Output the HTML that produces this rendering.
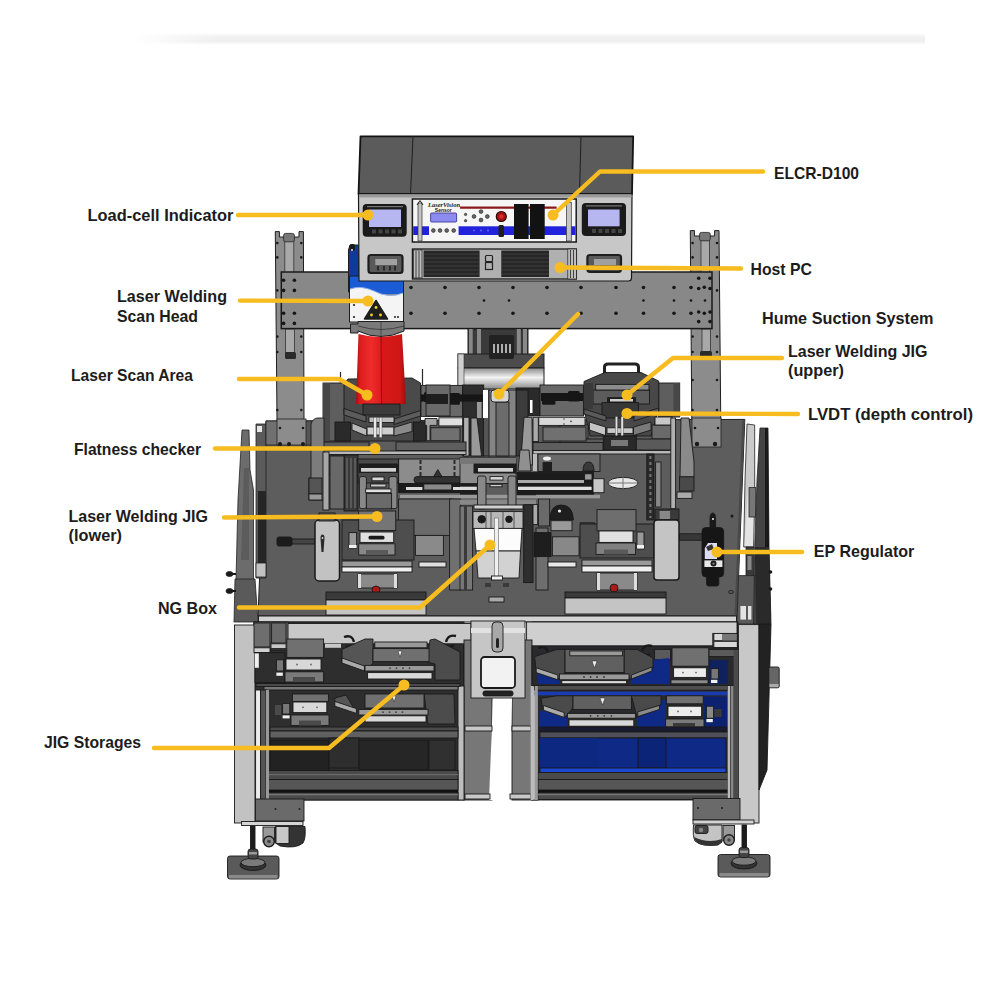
<!DOCTYPE html>
<html><head><meta charset="utf-8"><title>Laser welding machine layout</title>
<style>
html,body{margin:0;padding:0;background:#fff;}
body{width:1000px;height:1000px;overflow:hidden;}
svg{display:block;}
.t{font-family:"Liberation Sans","DejaVu Sans",sans-serif;font-weight:bold;font-size:16.2px;fill:#1c1c1c;}
.k{stroke:#1e1e1e;stroke-width:1;}
.y{stroke:#f7bc20;stroke-width:4.4;fill:none;stroke-linecap:round;stroke-linejoin:round;}
.yd{fill:#f7bc20;}
</style></head><body>
<svg width="1000" height="1000" viewBox="0 0 1000 1000">
<!-- background -->
<rect width="1000" height="1000" fill="#ffffff"/>
<defs><linearGradient id="tl" x1="0" y1="0" x2="0" y2="1"><stop offset="0" stop-color="#ffffff"/><stop offset="0.300" stop-color="#f1f1f1"/><stop offset="0.700" stop-color="#efefef"/><stop offset="1" stop-color="#ffffff"/></linearGradient>
<linearGradient id="tf" x1="0" y1="0" x2="1" y2="0"><stop offset="0" stop-color="#ffffff"/><stop offset="1" stop-color="#ffffff" stop-opacity="0"/></linearGradient></defs>
<rect x="135" y="33" width="790" height="12" fill="url(#tl)"/>
<rect x="135" y="33" width="80" height="12" fill="url(#tf)"/>

<!-- left column -->
<g>
<path d="M275.300 231.600 L279.400 231.600 L279.400 237 L299 237 L299 231.600 L303.400 231.600 L304 420 L306 448 L277 448 L277 420 Z" fill="#8c8c8c" class="k"/>
<rect x="284.800" y="240" width="9" height="34" fill="#a8a8a8" stroke="#333" stroke-width="0.800"/>
<rect x="283.600" y="233.400" width="10.800" height="8.400" rx="2" fill="#777" stroke="#222" stroke-width="0.800"/>
<rect x="285.500" y="329" width="9" height="24" fill="#a8a8a8" stroke="#333" stroke-width="0.800"/>
<rect x="285" y="352" width="11" height="7" rx="1.500" fill="#2a2a2a"/>
</g>
<!-- right column -->
<g>
<path d="M690.300 230.600 L694.400 230.600 L694.400 236 L714.600 236 L714.600 230.600 L719 230.600 L721 447 L692 447 Z" fill="#8c8c8c" class="k"/>
<rect x="701" y="239" width="8.500" height="34" fill="#a8a8a8" stroke="#333" stroke-width="0.800"/>
<rect x="699.500" y="232.400" width="10.800" height="8.400" rx="2" fill="#777" stroke="#222" stroke-width="0.800"/>
<rect x="702" y="329" width="8.500" height="24" fill="#a8a8a8" stroke="#333" stroke-width="0.800"/>
<rect x="700" y="351" width="12" height="6" rx="1.500" fill="#2a2a2a"/>
</g>
<g fill="#1a1a1a"><circle cx="277.3" cy="243" r="1.3"/><circle cx="277.3" cy="257.4" r="1.3"/><circle cx="277.3" cy="290.4" r="1.3"/><circle cx="277.3" cy="336.6" r="1.3"/><circle cx="277.3" cy="352" r="1.3"/><circle cx="277.3" cy="380" r="1.3"/><circle cx="277.3" cy="410" r="1.3"/><circle cx="301.3" cy="243" r="1.3"/><circle cx="301.3" cy="257.4" r="1.3"/><circle cx="301.3" cy="290.4" r="1.3"/><circle cx="301.3" cy="336.6" r="1.3"/><circle cx="301.3" cy="352" r="1.3"/><circle cx="301.3" cy="380" r="1.3"/><circle cx="301.3" cy="410" r="1.3"/><circle cx="692.6" cy="243" r="1.3"/><circle cx="692.6" cy="257.4" r="1.3"/><circle cx="692.6" cy="290.4" r="1.3"/><circle cx="692.6" cy="336.6" r="1.3"/><circle cx="692.6" cy="352" r="1.3"/><circle cx="692.6" cy="380" r="1.3"/><circle cx="692.6" cy="410" r="1.3"/><circle cx="717" cy="243" r="1.3"/><circle cx="717" cy="257.4" r="1.3"/><circle cx="717" cy="290.4" r="1.3"/><circle cx="717" cy="336.6" r="1.3"/><circle cx="717" cy="352" r="1.3"/><circle cx="717" cy="380" r="1.3"/><circle cx="717" cy="410" r="1.3"/></g>

<!-- beam -->
<rect x="281.300" y="272" width="430.700" height="56.600" fill="#888888" stroke="#1a1a1a" stroke-width="1.500"/>
<g fill="#161616"><circle cx="411" cy="287.5" r="1.8"/><circle cx="445" cy="287.5" r="1.8"/><circle cx="479" cy="287.5" r="1.8"/><circle cx="513" cy="287.5" r="1.8"/><circle cx="547" cy="287.5" r="1.8"/><circle cx="581" cy="287.5" r="1.8"/><circle cx="616" cy="287.5" r="1.8"/><circle cx="643.5" cy="287.5" r="1.8"/><circle cx="674" cy="287.5" r="1.8"/><circle cx="691" cy="287.5" r="1.8"/><circle cx="411" cy="313.3" r="1.8"/><circle cx="445" cy="313.3" r="1.8"/><circle cx="479" cy="313.3" r="1.8"/><circle cx="513" cy="313.3" r="1.8"/><circle cx="547" cy="313.3" r="1.8"/><circle cx="581" cy="313.3" r="1.8"/><circle cx="616" cy="313.3" r="1.8"/><circle cx="643.5" cy="313.3" r="1.8"/><circle cx="674" cy="313.3" r="1.8"/><circle cx="691" cy="313.3" r="1.8"/><circle cx="484" cy="300.5" r="1.3"/><circle cx="509" cy="300.5" r="1.3"/><circle cx="643.5" cy="300.5" r="1.3"/><circle cx="674" cy="300.5" r="1.3"/><circle cx="691" cy="300.5" r="1.3"/><circle cx="705" cy="300.5" r="1.3"/><circle cx="698.7" cy="278.2" r="1.8"/><circle cx="710" cy="278.2" r="1.8"/><circle cx="698.7" cy="321.6" r="1.8"/><circle cx="710" cy="321.6" r="1.8"/><circle cx="698.7" cy="288.5" r="1.8"/><circle cx="704.3" cy="287.3" r="1.8"/><circle cx="710" cy="288.5" r="1.8"/><circle cx="698.7" cy="312" r="1.8"/><circle cx="704.3" cy="313.2" r="1.8"/><circle cx="710" cy="312" r="1.8"/><circle cx="283.6" cy="280.2" r="1.8"/><circle cx="283.6" cy="290.4" r="1.8"/><circle cx="283.6" cy="313.2" r="1.8"/><circle cx="283.6" cy="323.4" r="1.8"/><circle cx="294.4" cy="280.2" r="1.8"/><circle cx="294.4" cy="290.4" r="1.8"/><circle cx="294.4" cy="313.2" r="1.8"/><circle cx="294.4" cy="323.4" r="1.8"/></g>

<!-- scan head -->
<g>
<path d="M348.500 250 L350 245 L358.600 245 L360 292 L348.500 292 Z" fill="#0f3a9c" class="k"/>
<rect x="349.600" y="244" width="5.400" height="7" rx="2" fill="#1a1a1a"/>
<circle cx="352" cy="250" r="1" fill="#eee"/>
<rect x="349" y="276" width="55" height="18" fill="#1b5cd6"/>
<path d="M350 289 Q361 285 374 291 Q389 299 403 293 L403 322 L350 322 Z" fill="#f4f4f4"/>
<path d="M350 289 Q361 285 374 291 Q389 299 403 293" fill="none" stroke="#8fb0e8" stroke-width="1"/>
<rect x="349.500" y="276" width="54" height="46" fill="none" class="k"/>
<path d="M364.500 319 L376 300.500 L387.500 319 Z" fill="#1e1e1e" stroke="#1e1e1e" stroke-width="1.500" stroke-linejoin="round"/>
<circle cx="376" cy="307.500" r="1.400" fill="#f6d21c"/><circle cx="371.500" cy="315" r="1.400" fill="#f6d21c"/><circle cx="380.500" cy="315" r="1.400" fill="#f6d21c"/>
<circle cx="354" cy="305" r="1.100" fill="#222"/><circle cx="354" cy="317" r="1.100" fill="#222"/><circle cx="395" cy="317" r="1" fill="#222"/><circle cx="398" cy="317" r="1" fill="#222"/>
<!-- collar -->
<path d="M350.500 324 L358 324 L358 321.500 L404 321.500 L404 331 Q381 342 358 331 L358 333 L350.500 333 Z" fill="#7a7a7a" class="k"/>
<path d="M358 326 Q381 333 404 326" fill="none" stroke="#333" stroke-width="0.800"/>
<path d="M381 322 V336" stroke="#333" stroke-width="0.700"/>
</g>

<!-- top box -->
<g>
<path d="M360.500 136.400 L633.200 136.400 L632 194 L358.500 194 Z" fill="#5b5b5b" stroke="#141414" stroke-width="1.800" stroke-linejoin="round"/>
<path d="M413 136.400 L410.500 194 M581 136.400 L579.500 194" class="k" fill="none" stroke-width="1.300"/>
<path d="M358.500 194 L632 194 L631.500 278 Q631.500 281 628.500 281 L359 281 Z" fill="#c7c7c7" stroke="#1a1a1a" stroke-width="1.200"/>
<rect x="359" y="194.500" width="272.500" height="3" fill="#9a9a9a" stroke="none"/>
<!-- left indicator -->
<rect x="362.700" y="204" width="44" height="32.800" rx="4" fill="#1a1a1a"/>
<rect x="369" y="209.500" width="32" height="17.500" fill="#b6b6f0"/>
<rect x="367" y="206" width="36" height="1.200" fill="#777"/>
<g fill="#444"><rect x="372" y="229.500" width="4" height="4"/><rect x="378.500" y="229.500" width="4" height="4"/><rect x="385" y="229.500" width="4" height="4"/><rect x="391.500" y="229.500" width="4" height="4"/><rect x="398" y="229.500" width="4" height="4"/></g>
<rect x="368.500" y="255" width="34" height="18" rx="2.500" fill="#5a5a5a" stroke="#1e1e1e" stroke-width="2.200"/>
<rect x="375.300" y="259" width="21.700" height="6" fill="#a0a0a0"/>
<path d="M378 266 V270.500 M384 266 V270.500 M390 266 V270.500 M395 266 V270.500" stroke="#1e1e1e" stroke-width="1.600"/>
<!-- right indicator -->
<rect x="581.800" y="203" width="44.200" height="33" rx="4" fill="#1a1a1a"/>
<rect x="588" y="209.500" width="31.600" height="16.800" fill="#b6b6f0"/>
<rect x="586" y="205.300" width="36" height="1.200" fill="#777"/>
<g fill="#444"><rect x="592" y="229" width="4" height="4"/><rect x="598.500" y="229" width="4" height="4"/><rect x="605" y="229" width="4" height="4"/><rect x="611.500" y="229" width="4" height="4"/><rect x="618" y="229" width="4" height="4"/></g>
<rect x="587.400" y="255" width="33.600" height="16.800" rx="2.500" fill="#5a5a5a" stroke="#1e1e1e" stroke-width="2.200"/>
<rect x="594" y="259" width="22" height="6" fill="#a0a0a0"/>
<!-- ELCR rack -->
<rect x="412.400" y="199" width="163.800" height="43" fill="#f6f6f6" stroke="#1a1a1a" stroke-width="1.500"/>
<rect x="413.200" y="226.300" width="162.300" height="8.700" fill="#2222dc"/>
<rect x="429" y="225.500" width="29.600" height="10.300" fill="#f6f6f6"/>
<rect x="418" y="203" width="4" height="38" fill="#c4c4c4" stroke="#333" stroke-width="0.700"/>
<path d="M417 205 L420 200.500 L423 205" fill="none" stroke="#222" stroke-width="1"/>
<rect x="566.400" y="202.500" width="4.900" height="38.500" fill="#c4c4c4" stroke="#333" stroke-width="0.700"/>
<rect x="430.600" y="213" width="26" height="9" rx="1" fill="#8c8cf0" stroke="#3a3a9a" stroke-width="0.900"/>
<text x="428" y="206.500" font-family="Liberation Serif,serif" font-style="italic" font-weight="bold" font-size="6.500" fill="#1a1a1a" textLength="32" lengthAdjust="spacingAndGlyphs">LaserVision</text>
<text x="434.800" y="211.800" font-family="Liberation Sans,sans-serif" font-weight="bold" font-size="4.600" fill="#1a1a1a" textLength="17" lengthAdjust="spacingAndGlyphs">Sensor</text>
<path d="M460 207.700 L556.600 207.700" stroke="#8a1a1a" stroke-width="2.200"/>
<circle cx="501.300" cy="216.500" r="5" fill="#a81414" stroke="#2a0808" stroke-width="1.200"/>
<circle cx="501.300" cy="216.500" r="2" fill="#d83030"/>
<rect x="498.500" y="225" width="5.500" height="12" rx="1.500" fill="#1e1e1e"/>
<rect x="514" y="204" width="14.600" height="35" fill="#121212"/>
<rect x="530" y="204" width="14.700" height="35" fill="#121212"/>
<g fill="#666" stroke="#222" stroke-width="0.600"><circle cx="474" cy="216.500" r="1.900"/><circle cx="481" cy="211.600" r="1.900"/><circle cx="481" cy="220" r="1.900"/><circle cx="487.300" cy="216.500" r="1.900"/><circle cx="465.600" cy="214.400" r="1.200"/><circle cx="465.600" cy="220.700" r="1.200"/><circle cx="433.400" cy="230.500" r="1.900"/><circle cx="440" cy="230.500" r="1.900"/><circle cx="446.700" cy="230.500" r="1.900"/><circle cx="453.700" cy="230.500" r="1.900"/></g>
<g fill="#5a6af0"><circle cx="474" cy="230.500" r="1"/><circle cx="481" cy="230.500" r="1"/><circle cx="488" cy="230.500" r="1"/></g>
<!-- host pc -->
<rect x="412.400" y="249" width="164" height="30" fill="#b0b0b0" stroke="#1a1a1a" stroke-width="1.300"/>
<rect x="413.500" y="250" width="8.500" height="28" fill="#bdbdbd" stroke="#222" stroke-width="0.700"/>
<path d="M416 251 V278 M419 251 V278" stroke="#222" stroke-width="0.800"/>
<rect x="423.600" y="250.500" width="56" height="26.500" fill="#262626"/>
<rect x="501.300" y="250.500" width="47.700" height="26.500" fill="#262626"/>
<path d="M424 254 H479 M424 258 H479 M424 262 H479 M424 266 H479 M424 270 H479 M424 274 H479 M502 254 H549 M502 258 H549 M502 262 H549 M502 266 H549 M502 270 H549 M502 274 H549" stroke="#4a4a4a" stroke-width="0.700"/>
<rect x="567.800" y="249" width="8.600" height="30" fill="#bdbdbd" stroke="#222" stroke-width="0.700"/>
<path d="M570.500 250 V278 M573.500 250 V278" stroke="#222" stroke-width="0.800"/>
<rect x="485.500" y="255.500" width="7" height="6" rx="1" fill="none" stroke="#222" stroke-width="1.200"/>
<rect x="485.500" y="262.500" width="7" height="7" fill="none" stroke="#222" stroke-width="1.200"/>
</g>
<!-- center mount + cylinder -->
<defs><linearGradient id="cyl" x1="0" y1="0" x2="0" y2="1"><stop offset="0" stop-color="#8a8a8a"/><stop offset="0.450" stop-color="#f4f4f4"/><stop offset="0.800" stop-color="#b0b0b0"/><stop offset="1" stop-color="#8a8a8a"/></linearGradient></defs>
<g>
<rect x="468" y="329" width="60" height="26" fill="#3a3a3a" class="k"/>
<rect x="469" y="329" width="3.700" height="25" fill="#888"/><rect x="477" y="329" width="4" height="25" fill="#888"/><rect x="516.800" y="329" width="4" height="25" fill="#888"/><rect x="523" y="329" width="4" height="25" fill="#888"/>

<rect x="458" y="354" width="86" height="14" fill="#4c4c4c" class="k"/>
<rect x="489" y="335" width="25" height="24" rx="2" fill="#222"/>
<path d="M494 344 V353 M498 344 V353 M502 344 V353 M506 344 V353 M510 344 V353" stroke="#ddd" stroke-width="1.500"/>
<rect x="458" y="368" width="86" height="21" fill="url(#cyl)" class="k"/>
<rect x="458" y="354" width="6" height="35" fill="#cfcfcf" stroke="#333" stroke-width="0.600"/>
</g>

<!-- table -->
<path d="M266 421 L744.800 419.400 L737 616 L258 616 Z" fill="#5d5d5d" class="k"/>
<path d="M742.300 421 L744.800 419.400 L737 616 L734.500 616 Z" fill="#4a4a4a"/>

<!-- side panels -->
<g stroke="#222" stroke-width="0.800">
<!-- left door panels -->
<path d="M242 430 L249 430 L250 470 L253.500 490 L253.500 580 L236 580 L238 500 Z" fill="#6c6c6c"/>
<path d="M244 468 L249 468 L249 560 L241 560 Z" fill="#5c5c5c" stroke="none"/>
<path d="M256 424 L266 424 L266 578 L256 578 Z" fill="#5a5a5a"/>
<rect x="257" y="426" width="5" height="6" fill="#e8e8e8" stroke="none"/>
<rect x="258" y="491" width="8" height="72" fill="#262626" stroke="none"/>
<rect x="256" y="563" width="10" height="14" fill="#c2c2c2"/>
<path d="M235 579 L255 579 L258 622 L234 622 Z" fill="#5a5a5a"/>
<rect x="266" y="421" width="12" height="24" fill="#707070"/>
<rect x="305" y="421" width="8" height="24" fill="#555"/>
<ellipse cx="229.500" cy="574" rx="3.500" ry="2.500" fill="#1a1a1a"/><ellipse cx="229.500" cy="591" rx="3.500" ry="2.500" fill="#1a1a1a"/>
<rect x="231" y="573" width="5" height="2" fill="#1a1a1a" stroke="none"/><rect x="231" y="590" width="5" height="2" fill="#1a1a1a" stroke="none"/>
<!-- right door panels -->
<path d="M747 424 L754.700 425 L754.700 500 L753.600 547 L743.700 547 L745 480 Z" fill="#cacaca"/>
<path d="M748 487 L753.500 487 L753 546 L744.500 546 Z" fill="#e4e4e4" stroke="none"/>
<rect x="749" y="487.600" width="6.800" height="29.400" fill="#777"/>
<rect x="746" y="547" width="7.600" height="29" fill="#3a3a3a"/>
<rect x="747.500" y="556" width="4" height="14" fill="#888" stroke="none"/>
<path d="M738.500 575.600 L758 575.600 L758 624 L737 624 Z" fill="#5a5a5a"/>
<rect x="740.400" y="606" width="5.600" height="13.600" fill="#e4e4e4" stroke="none"/><rect x="748" y="606" width="3.400" height="13.600" fill="#e4e4e4" stroke="none"/>
<path d="M760 428 L768 428 L769 547 L771 624 L753.600 624 L754.700 547 L757 481 Z" fill="#444"/>
<path d="M765 428 L768 428 L769 547 L771 624 L765 624 Z" fill="#1a1a1a" stroke="none"/>
<path d="M754.700 547 L769 547 L771 624 L756 624 Z" fill="#2a2a2a" stroke="none"/>
<circle cx="770.500" cy="572" r="1.800" fill="#1a1a1a" stroke="none"/><circle cx="770.500" cy="589" r="1.800" fill="#1a1a1a" stroke="none"/>
</g>

<g>
<rect x="277" y="419" width="29" height="26" fill="#8c8c8c" stroke="#222" stroke-width="0.800"/>
<rect x="692" y="418" width="29" height="29" fill="#8c8c8c" stroke="#222" stroke-width="0.800"/>
<g fill="#1a1a1a"><circle cx="280" cy="444" r="2"/><circle cx="289" cy="444" r="2"/><circle cx="303" cy="444" r="2"/><circle cx="280" cy="428" r="1.300"/><circle cx="303" cy="428" r="1.300"/>
<circle cx="697" cy="444" r="2.200"/><circle cx="715" cy="444" r="2.200"/><circle cx="695" cy="428" r="1.300"/><circle cx="718" cy="428" r="1.300"/></g>
</g>
<g stroke="#1a1a1a" stroke-width="0.9">
<!-- back band with clamps -->
<rect x="421" y="385.400" width="41.700" height="31" fill="#686868"/>
<rect x="462.700" y="385" width="21" height="71" fill="#2e2e2e"/>
<rect x="516" y="388" width="23.500" height="28" fill="#2a2a2a"/>
<rect x="540" y="385" width="43.500" height="31" fill="#686868"/>
<g fill="#161616" stroke="none">
<rect x="421" y="394.400" width="62" height="7.200"/><rect x="447" y="393" width="13" height="11.700" rx="1.500"/><rect x="424" y="392" width="8" height="10" rx="1.500"/>
<rect x="541" y="393" width="42" height="8"/><rect x="542" y="393" width="13.400" height="11.700" rx="1.500"/><rect x="568" y="391" width="11.700" height="10.500" rx="1.500"/>
</g>
<!-- central pillar -->
<rect x="483.400" y="390" width="6.300" height="66" fill="#555"/>
<rect x="516" y="390" width="12" height="66" fill="#3c3c3c"/>
<rect x="483" y="390" width="5" height="28" fill="#ffffff" stroke="none"/>
<rect x="530" y="400" width="2.5" height="13" fill="#ffffff" stroke="none"/>
<rect x="489" y="390" width="27" height="66" fill="#848484"/>
<rect x="496" y="402" width="13" height="54" fill="#6c6c6c"/>
<rect x="491" y="390" width="18" height="12" rx="3" fill="#d6d6d6"/>
<path d="M463.600 417.300 L469 417.300 L469 456 L463.600 456 Z" fill="#b0b0b0"/>
<path d="M471 418 L477 418 L481.600 456 L471 456 Z" fill="#999"/>
<rect x="477" y="402" width="4.600" height="16" fill="#999" stroke="none"/>
<path d="M524 417.300 L532 417.300 L532.500 465 L520.500 465 Z" fill="#999"/>
<!-- left jig holder (around cone) -->
<path d="M340.500 372 V384 M422.500 369 V385" stroke="#2a2a2a" stroke-width="1.200"/>
<rect x="323" y="383" width="22" height="58" fill="#5e5e5e"/>
<rect x="323" y="383" width="7" height="58" fill="#474747" stroke="none"/>
<path d="M344 384 L348 379 L412 378 L420.5 383 L420.5 441 L344 441 Z" fill="#4a4a4a"/>
<defs><linearGradient id="cone" x1="0" y1="0" x2="1" y2="0"><stop offset="0" stop-color="#a80e0e"/><stop offset="0.080" stop-color="#dc1c1c"/><stop offset="0.300" stop-color="#ee2c2c"/><stop offset="0.500" stop-color="#e01c1c"/><stop offset="0.510" stop-color="#d81818"/><stop offset="0.880" stop-color="#d01616"/><stop offset="1" stop-color="#9c0e0e"/></linearGradient></defs>
<g stroke="none">
<path d="M358.500 334 Q380 340 402 334 L406 404 L356 404 Z" fill="url(#cone)"/>
<path d="M381 337 L381.500 404" stroke="#8c0c0c" stroke-width="0.900"/>
</g>
<rect x="363" y="404" width="37" height="11" fill="#3c3c3c"/>
<path d="M344 408.500 L366 416 L366 422 L344 415 Z" fill="#5c5c5c"/>
<path d="M420.500 410.500 L394 419 L394 424.500 L420.500 416 Z" fill="#5c5c5c"/>
<rect x="369" y="417" width="25" height="5.500" fill="#bdbdbd"/>
<rect x="367" y="427" width="27" height="8" fill="#cfcfcf"/>
<path d="M352 423 L366.700 429 L366.700 436 L352 430 Z" fill="#b8b8b8"/>
<path d="M394 427.500 L412 422 L412 431.500 L394 436 Z" fill="#8a8a8a"/>
<rect x="373.700" y="417.500" width="2.800" height="20" fill="#e8e8e8" stroke="#444" stroke-width="0.400"/>
<rect x="379.200" y="417.500" width="2.800" height="20" fill="#e8e8e8" stroke="#444" stroke-width="0.400"/>
<rect x="335" y="422" width="15.500" height="19" fill="#2a2a2a"/>
<rect x="413.500" y="422" width="12.500" height="19" fill="#2a2a2a"/>
<rect x="426" y="385" width="24" height="31" fill="#6a6a6a"/>
<rect x="426" y="394" width="22" height="10" fill="#1e1e1e" stroke="none"/>
<rect x="323" y="442" width="46" height="8.500" fill="#5a5a5a"/>
<rect x="323" y="455" width="34" height="20" fill="#4a4a4a"/>
<!-- upper right jig -->
<rect x="658.700" y="383" width="21" height="34" fill="#5e5e5e"/>
<rect x="673.400" y="383" width="6.300" height="34" fill="#484848" stroke="none"/>
<path d="M604.500 376 L604.500 367 Q604.500 364 608 364 L635 364 Q638.500 364 638.500 367 L638.500 376" fill="none" stroke="#222" stroke-width="3"/>
<path d="M584 381.500 L604.800 372.500 L641 372.500 L658.700 381 L658.700 409 L651 436 L590 436 L584 409.500 Z" fill="#484848"/>
<rect x="593" y="390" width="56.500" height="14" fill="#5c5c5c"/>
<rect x="595.700" y="384.400" width="53.300" height="5.600" fill="#8c8c8c"/>
<rect x="584" y="383" width="9" height="26" fill="#3a3a3a" stroke="none"/>
<rect x="607.600" y="397.700" width="28" height="5" fill="#1e1e1e"/>
<rect x="610" y="399" width="23" height="2.500" fill="#cfcfcf" stroke="none"/>
<rect x="602" y="402.600" width="36.400" height="15.400" fill="#383838"/>
<path d="M584 409 L606 416 L606 421 L584 414 Z" fill="#5a5a5a"/>
<path d="M658.700 408 L634 416 L634 421 L658.700 413 Z" fill="#5a5a5a"/>
<path d="M589.400 422 L605.500 427 L605.500 435.500 L589.400 430 Z" fill="#c4c4c4"/>
<path d="M651 422 L633.500 427 L633.500 435.500 L651 430 Z" fill="#7a7a7a"/>
<rect x="607" y="427.800" width="26" height="5.600" fill="#c8c8c8"/>
<rect x="615.300" y="416.600" width="2.300" height="20" fill="#e0e0e0" stroke="#444" stroke-width="0.400"/>
<rect x="621" y="416.600" width="2.300" height="20" fill="#e0e0e0" stroke="#444" stroke-width="0.400"/>
<rect x="603.400" y="436" width="33" height="14" fill="#2a2a2a"/>
<rect x="611" y="440" width="17" height="6" fill="#777" stroke="none"/>
<rect x="560" y="425" width="28" height="14" fill="#6e6e6e"/>
<rect x="652" y="425" width="20" height="14" fill="#6a6a6a"/>
<rect x="560" y="439" width="43.400" height="11" fill="#5a5a5a"/>
<rect x="636.300" y="439" width="38.500" height="11" fill="#5a5a5a"/>
<!-- light plates row y417 -->
<rect x="438.900" y="417.800" width="23.800" height="8.100" fill="#e0e0e0"/>
<path d="M425 418.500 L437 418.500 L437 425.400 L430 425.400 L430 440.700 L426.700 440.700 L426.700 425.400 L425 425.400 Z" fill="#a4a4a4"/>
<rect x="538.800" y="417.300" width="46.200" height="8.100" fill="#d8d8d8"/>
<rect x="533" y="417.300" width="5.300" height="24.300" fill="#aaa"/>
<circle cx="564" cy="419" r="0.800" fill="#444" stroke="none"/><circle cx="564" cy="424" r="0.800" fill="#444" stroke="none"/><circle cx="571" cy="421.300" r="0.900" fill="#444" stroke="none"/>
<rect x="655" y="417" width="17" height="8" fill="#c8c8c8"/>
<rect x="430.800" y="427.700" width="29.200" height="13" fill="#707070"/>
<rect x="543" y="427" width="43" height="14" fill="#707070"/>
<!-- band y442-454 -->
<rect x="396" y="442" width="70" height="8.600" fill="#5e5e5e"/>
<rect x="533" y="442.500" width="70" height="8.100" fill="#5e5e5e"/>
<rect x="323" y="451" width="143" height="3.5" fill="#b8b8b8"/>
<rect x="533" y="450.5" width="141" height="3.5" fill="#b8b8b8"/>
<!-- sloped brackets -->
<path d="M311 424 Q313 418 318 418 L324 418 L324 500 L309 500 L309 478 L311 478 Z" fill="#7c7c7c"/>
<rect x="309" y="478" width="13" height="16" fill="#555"/><rect x="309" y="494" width="13" height="6" fill="#9a9a9a"/>
<rect x="323" y="452" width="6" height="58" fill="#a8a8a8"/>
<path d="M681 418 L689 418 L694 462 L694 477 L680 477 Z" fill="#8a8a8a"/>
<rect x="679.600" y="476.800" width="14.400" height="14.200" fill="#4a4a4a"/><rect x="677" y="492" width="15" height="6.400" fill="#aaa"/>
<rect x="670.800" y="418" width="4.800" height="90.800" fill="#b0b0b0"/>
<rect x="646.800" y="454" width="7.200" height="66" fill="#2a2a2a"/><path d="M650.400 456 V518" stroke="#777" stroke-width="2" stroke-dasharray="3 3"/>
<rect x="655.600" y="462" width="5.400" height="45" fill="#888"/>
<!-- gray plates row y459-483 -->
<rect x="344" y="455" width="14" height="56" fill="#3a3a3a"/>
<path d="M347 458 V508 M351 458 V508 M355 458 V508" stroke="#8a8a8a" stroke-width="0.800"/>
<rect x="330" y="456" width="14" height="53" fill="#686868"/>
<rect x="398.600" y="459" width="77.400" height="24.600" fill="#8c8c8c"/>
<path d="M420.500 460 V476 M454.500 460 V476" stroke="#2a2a2a" stroke-width="2" stroke-dasharray="4 2"/>
<rect x="414" y="476.600" width="47.600" height="6.400" rx="3" fill="#333"/>
<path d="M433.600 476.600 L437.800 469.600 L442 476.600 Z" fill="#333"/>
<!-- black rail -->
<rect x="398.600" y="483.600" width="78" height="9" fill="#1c1c1c"/>
<rect x="406" y="487" width="16.400" height="3" fill="#dcdcdc" stroke="none"/>
<rect x="453" y="487" width="23" height="3" fill="#dcdcdc" stroke="none"/>
<rect x="423.800" y="484" width="28" height="6" fill="#888"/>
<rect x="400" y="494.800" width="60" height="3.500" fill="#999" stroke="none"/>
<ellipse cx="623" cy="483" rx="15" ry="5.600" fill="#e8e8e8"/>

<path d="M609 483 H637 M623 477 V489" stroke="#777" stroke-width="1"/>
<rect x="398.600" y="499" width="53.200" height="36.400" fill="#6a6a6a"/>
<rect x="449.600" y="499" width="11" height="91" fill="#707070"/>
<!-- left lower jig stack -->
<rect x="358" y="459" width="40.600" height="24" fill="#4a4a4a"/>
<rect x="359.400" y="464" width="38" height="8.400" fill="#1e1e1e"/>
<rect x="361" y="468" width="35" height="3.700" fill="#d0d0d0" stroke="none"/>
<rect x="359.400" y="476.600" width="7" height="32" rx="2" fill="#888"/><rect x="389" y="476.600" width="8" height="32" rx="2" fill="#888"/>
<rect x="372" y="477" width="12" height="3.800" fill="#d8d8d8"/>
<rect x="370.600" y="484" width="15.400" height="3" fill="#ccc"/>
<rect x="365.700" y="489" width="25.300" height="3.700" fill="#e0e0e0"/>
<rect x="366.400" y="493.400" width="25.200" height="15.400" fill="#6a6a6a"/>
<rect x="342" y="520" width="72" height="40" fill="#4e4e4e"/>
<rect x="415.400" y="535.400" width="28" height="20" fill="#8a8a8a"/>
<rect x="358.700" y="511" width="37" height="19.500" fill="#757575"/>
<rect x="360" y="532" width="33.700" height="10.400" fill="#e0e0e0"/>
<rect x="368.500" y="535.700" width="16" height="3.900" rx="1.500" fill="#1a1a1a" stroke="none"/>
<rect x="358.700" y="543.800" width="36.300" height="11.200" fill="#888"/>
<rect x="366" y="550" width="22" height="5" fill="#5a5a5a" stroke="none"/>
<rect x="349" y="532.600" width="7.600" height="15.400" fill="#999"/>
<rect x="349" y="545" width="7.600" height="3" fill="#f0f0f0" stroke="none"/>
<rect x="342" y="561" width="70" height="6" fill="#9a9a9a"/>
<rect x="342" y="567" width="70" height="5" fill="#f0f0f0"/>
<rect x="358" y="574" width="39" height="14" fill="#8a8a8a"/>
<rect x="358" y="574" width="3" height="14" fill="#ddd" stroke="none"/><rect x="394" y="574" width="3" height="14" fill="#ddd" stroke="none"/>
<circle cx="376" cy="590" r="4" fill="#b01818"/>
<rect x="326" y="592" width="100" height="8" fill="#3a3a3a"/>
<rect x="326" y="600" width="100" height="15" fill="#c4c4c4"/>
<!-- left pod -->
<rect x="277" y="537" width="15" height="9" rx="2" fill="#1c1c1c"/>
<rect x="292" y="539" width="23" height="5" fill="#444"/>
<rect x="315" y="520" width="24.500" height="61" rx="4" fill="#c2c2c2" stroke-width="1.500"/>
<rect x="319" y="513" width="16" height="8" fill="#555"/>
<path d="M320.500 538 Q320.500 534.500 322.500 534.500 Q324.500 534.500 324.500 538 L323.500 552 L321.500 552 Z" fill="#2a2a2a" stroke="none"/><circle cx="322.500" cy="538" r="0.900" fill="#ddd" stroke="none"/>
<!-- middle -->
<rect x="460" y="458" width="56" height="25.600" fill="#8c8c8c"/>
<rect x="460" y="458" width="56" height="6" fill="#777" stroke="none"/>
<rect x="474" y="464" width="42" height="9" fill="#1e1e1e"/>
<rect x="478" y="468" width="35" height="3.700" fill="#d0d0d0" stroke="none"/>
<rect x="460" y="484" width="17" height="10.800" fill="#1c1c1c" stroke="none"/>
<rect x="460" y="486.700" width="16.800" height="3.300" fill="#dcdcdc" stroke="none"/>
<rect x="460" y="494.800" width="76" height="3.500" fill="#999" stroke="none"/>
<rect x="460" y="499.700" width="76" height="5" fill="#888" stroke="none"/>
<rect x="477.500" y="476" width="8.500" height="33" rx="2" fill="#888"/><rect x="508" y="476" width="8" height="33" rx="2" fill="#888"/>
<rect x="490" y="476.600" width="13" height="3.500" fill="#d8d8d8"/><rect x="490" y="484.300" width="12" height="2.500" fill="#ccc"/>
<rect x="474" y="505" width="49" height="4" fill="#d0d0d0"/>
<rect x="460" y="506" width="12.600" height="84" fill="#777"/>
<rect x="464" y="506" width="3" height="84" fill="#3a3a3a" stroke="none"/>
<rect x="419" y="562" width="27" height="5" fill="#e0e0e0"/>
<rect x="473" y="511.600" width="50" height="17" fill="#b8b8b8"/>
<path d="M486 512 V528 M491 512 V528 M503 512 V528 M514 512 V528" stroke="#555" stroke-width="1"/>
<circle cx="481.700" cy="519.300" r="3.800" fill="#1a1a1a"/><circle cx="509" cy="519.300" r="3.300" fill="#1a1a1a"/>
<!-- NG box -->
<path d="M474 528.400 L522 528.400 L520.500 551 L476 551 Z" fill="#fcfcfc"/>
<path d="M476 551 L520.500 551 L519 578 L478 578 Z" fill="#d2d2d2"/>
<rect x="494.300" y="518" width="4.200" height="60" fill="#f0f0f0" stroke="#666" stroke-width="0.600"/>
<rect x="491.500" y="576" width="11" height="4" fill="#f0f0f0"/>
<rect x="523.700" y="504.600" width="9.300" height="78" fill="#2e2e2e"/>
<rect x="533" y="504.600" width="4.700" height="20" fill="#aaa"/>
<rect x="538.400" y="499" width="11.200" height="27" fill="#6a6a6a"/>
<rect x="536" y="528" width="12" height="62" fill="#6e6e6e"/>
<rect x="534" y="532.600" width="17" height="24" fill="#1e1e1e"/>
<path d="M550 520 Q550 505 561 505 Q573 505 573.400 520 Z" fill="#1e1e1e"/>
<circle cx="559.500" cy="511" r="1.600" fill="#eee" stroke="none"/>
<rect x="551" y="520.700" width="21" height="10" fill="#999"/>
<rect x="552.400" y="536.800" width="26.600" height="19" fill="#888"/>
<rect x="580.400" y="522.800" width="14" height="33" fill="#4a4a4a"/>
<rect x="548" y="562" width="28" height="5" fill="#e8e8e8"/>
<rect x="489" y="597" width="15" height="5" fill="#aaa"/>
<rect x="485" y="583" width="6" height="4" fill="#3a3a3a" stroke="none"/><rect x="503" y="583" width="6" height="4" fill="#3a3a3a" stroke="none"/>
<!-- right mid-top -->
<path d="M520 450 L529 450 L531 471 L518 471 Z" fill="#909090"/>
<rect x="533" y="454" width="4" height="17" fill="#bbb" stroke="none"/>
<rect x="538" y="454" width="62" height="17.500" fill="#6a6a6a"/>
<rect x="542.600" y="462" width="9.400" height="9" fill="#1e1e1e" stroke="none"/>
<ellipse cx="547" cy="458.500" rx="4" ry="2" fill="#eee" stroke="none"/>
<path d="M583 471 Q583 462 588.500 462 Q594 462 594 471 Z" fill="#3a3a3a"/>
<rect x="517.400" y="472.400" width="76" height="22.400" fill="#1c1c1c"/>
<rect x="518" y="480" width="66" height="3" fill="#aaa" stroke="none"/>
<rect x="518" y="486.700" width="73.600" height="3.300" fill="#e0e0e0" stroke="none"/>
<rect x="584.600" y="473.800" width="7.400" height="6.200" fill="#999"/>
<rect x="593" y="478.700" width="11" height="14" fill="#c8c8c8"/>
<rect x="536" y="494.800" width="64" height="3.500" fill="#999" stroke="none"/>
<!-- right lower jig stack -->
<rect x="580" y="524" width="74" height="34" fill="#4e4e4e"/>
<rect x="597" y="509.600" width="39" height="21.400" fill="#6e6e6e"/><rect x="637" y="532" width="7" height="17" fill="#999"/><rect x="637" y="545" width="7" height="3.500" fill="#f0f0f0" stroke="none"/>
<rect x="599" y="531" width="34" height="11.400" fill="#e0e0e0"/>
<rect x="596" y="543" width="39.600" height="11.400" fill="#808080"/><rect x="604" y="549.500" width="24" height="5" fill="#5a5a5a" stroke="none"/>
<rect x="582" y="560" width="70" height="6" fill="#9a9a9a"/>
<rect x="582" y="566" width="70" height="6" fill="#f0f0f0"/>
<rect x="597" y="573" width="40" height="17" fill="#8a8a8a"/>
<rect x="597" y="573" width="3" height="17" fill="#ddd" stroke="none"/><rect x="634" y="573" width="3" height="17" fill="#ddd" stroke="none"/>
<circle cx="614" cy="588" r="4" fill="#b01818"/>
<rect x="565" y="592" width="101" height="6" fill="#3a3a3a"/>
<rect x="565" y="598" width="101" height="16" fill="#c4c4c4"/>
<!-- right pod -->
<rect x="655" y="509" width="24" height="11" fill="#3a3a3a"/><rect x="659.600" y="511" width="10.400" height="8" fill="#888" stroke="none"/>
<rect x="654" y="520" width="25" height="60" rx="3" fill="#c4c4c4" stroke-width="1.500"/>
<rect x="679.600" y="533.800" width="23" height="6.400" fill="#383838"/>
<!-- EP regulator -->
<path d="M710 528 L710 519 Q710 513 712.800 513 Q715.600 513 715.600 519 L715.600 528 Z" fill="#1a1a1a"/>
<circle cx="713" cy="519" r="1" fill="#eee" stroke="none"/>
<rect x="702" y="527.500" width="21.700" height="49.500" rx="4" fill="#161616"/>
<rect x="706.600" y="576" width="12.200" height="10" rx="2" fill="#161616"/>
<path d="M704.800 559 L704.800 548 L708 543 L717 543 L717 559 Z" fill="#dcdcf0" stroke="none"/>
<path d="M706 547 L712 544 L714 549 L708 551 Z" fill="#333" stroke="none"/>
<rect x="704.400" y="560.400" width="18" height="6.600" fill="#e8e8e8" stroke="none"/>
<circle cx="713.500" cy="563.600" r="3" fill="#1a1a1a" stroke="none"/><circle cx="713.500" cy="563.600" r="1.200" fill="#777" stroke="none"/>
<circle cx="732" cy="516" r="1.500" fill="#1a1a1a" stroke="none"/>
<ellipse cx="731" cy="592" rx="2.500" ry="1.500" fill="none" stroke="#1a1a1a" stroke-width="0.800"/>
</g>
<!-- table front -->
<rect x="258.5" y="616" width="478" height="6" fill="#d4d4d4" class="k"/>
<!-- lower frame -->
<g stroke="#1a1a1a" stroke-width="0.9">
<!-- back fill of drawers -->
<rect x="254" y="622" width="210" height="178" fill="#2e2e2e"/>
<rect x="532" y="622" width="206" height="178" fill="#2e2e2e"/>
<!-- upper light band -->
<rect x="287.600" y="623.500" width="183.400" height="20.300" fill="#c8c8c8"/>
<rect x="526.600" y="622" width="210.400" height="24" fill="#cfcfcf"/>
<rect x="254" y="622" width="34" height="28" fill="#6e6e6e"/>
<rect x="270" y="643" width="18" height="6" fill="#c8c8c8"/>
<!-- posts -->
<rect x="234.500" y="625" width="20.500" height="198" fill="#c2c2c2"/>
<rect x="738.400" y="624.600" width="20.600" height="198.400" fill="#c8c8c8"/>
<path d="M759 624 L771 624 L767 770 L759 790 Z" fill="#222"/>
<rect x="768.800" y="667" width="10.400" height="20.800" rx="1.500" fill="#666"/><rect x="769.500" y="684" width="9" height="3.200" fill="#aaa" stroke="none"/>
<!-- center frame -->
<rect x="464" y="640" width="28" height="160" fill="#777"/>
<rect x="512" y="640" width="20" height="160" fill="#777"/>
<path d="M493 698 L512 698 L509 800 L489 800 Z" fill="#ffffff" stroke="none"/>
<rect x="465" y="726" width="27" height="5" fill="#c8c8c8"/><rect x="512" y="726" width="19" height="5" fill="#c8c8c8"/>
<rect x="465" y="794" width="25" height="5" fill="#c8c8c8"/><rect x="510" y="794" width="21" height="5" fill="#c8c8c8"/>
<rect x="458" y="686" width="6" height="114" fill="#bdbdbd"/>
<rect x="532" y="686" width="6" height="114" fill="#bdbdbd"/>
<!-- center unit -->
<rect x="471" y="621" width="54" height="77" fill="#c6c6c6"/>
<rect x="471" y="628" width="54" height="5" fill="#e2e2e2" stroke="none"/>
<rect x="492" y="622" width="11" height="30" rx="4" fill="#a8a8a8"/>
<rect x="496" y="638" width="3" height="10" rx="1.5" fill="#222" stroke="none"/>
<rect x="481" y="657" width="34" height="31" rx="3.500" fill="#f2f2f2" stroke-width="1.800"/>
<rect x="483" y="691" width="30" height="5" rx="2" fill="#222"/>

<!-- LEFT drawer -->
<rect x="254" y="623" width="16" height="24" fill="#6e6e6e"/>
<rect x="254" y="647.800" width="16" height="4.800" fill="#d0d0d0"/>
<rect x="271.600" y="623" width="14.400" height="20" fill="#6a6a6a"/>
<rect x="271" y="643.800" width="15" height="4.800" fill="#c8c8c8"/>
<rect x="325" y="643.800" width="16" height="4" fill="#c8c8c8" stroke="none"/>
<rect x="255" y="652.600" width="30" height="30" fill="#2e2e2e"/>
<rect x="254.800" y="653.400" width="4" height="14.400" fill="#f0f0f0" stroke="none"/>
<rect x="276.400" y="659.800" width="7.200" height="11.200" fill="#777"/>
<rect x="276.400" y="672.600" width="6.400" height="3.200" fill="#f0f0f0" stroke="none"/>
<rect x="286.800" y="639" width="36.800" height="18.400" fill="#707070"/>
<rect x="286" y="659" width="35" height="11" fill="#d8d8d8"/>
<circle cx="297" cy="664.500" r="0.900" fill="#666" stroke="none"/><circle cx="311" cy="664.500" r="0.900" fill="#666" stroke="none"/>
<rect x="285" y="671.800" width="38.600" height="10.200" fill="#7a7a7a"/>
<rect x="293" y="677" width="22" height="5" fill="#4a4a4a" stroke="none"/>
<rect x="275" y="705" width="6" height="10" fill="#4a4a4a" stroke="none"/>
<rect x="282.600" y="703.400" width="7.200" height="10.600" fill="#777"/>
<rect x="282.600" y="715.400" width="7" height="3" fill="#f0f0f0" stroke="none"/>
<rect x="292.400" y="694" width="36" height="7.400" fill="#707070"/>
<rect x="293" y="702" width="33.800" height="10.600" fill="#d8d8d8"/>
<circle cx="303" cy="707.300" r="0.900" fill="#666" stroke="none"/><circle cx="317" cy="707.300" r="0.900" fill="#666" stroke="none"/>
<rect x="291" y="715" width="38" height="10.400" fill="#7a7a7a"/>
<rect x="299" y="720.500" width="22" height="5" fill="#4a4a4a" stroke="none"/>
<!-- large jig shelf 1 -->
<path d="M344 637 Q352 634 354 642 M346 647 Q353 645 354.500 652 L351 657" fill="none" stroke="#1a1a1a" stroke-width="2.400"/>
<path d="M456 636 Q448 634 446 642 M454 646 Q447 645 445.500 652 L449 657" fill="none" stroke="#1a1a1a" stroke-width="2.400"/>
<path d="M342 649.400 L365 639 L373 639 L373 663 L365 671 L342 661.400 Z" fill="#555"/>
<path d="M342 658 L364.400 666 L364.400 671 L342 663 Z" fill="#aaa"/>
<path d="M430 640 L435 639 L460 652 L460 680 L435 680 L435 664 L427 662 Z" fill="#4c4c4c"/>
<rect x="374.800" y="642" width="52.200" height="5.800" fill="#999"/>
<rect x="373" y="648.600" width="56" height="13" fill="#707070"/>
<path d="M398 651 L402 651 L400 657 Z" fill="#f4f4f4" stroke="#222" stroke-width="0.500"/>
<rect x="365" y="665.400" width="69" height="5.600" fill="#9a9a9a"/>
<g fill="#444" stroke="none"><circle cx="390" cy="668.200" r="0.900"/><circle cx="396.500" cy="668.200" r="0.900"/><circle cx="403" cy="668.200" r="0.900"/><circle cx="409.500" cy="668.200" r="0.900"/></g>
<rect x="367.600" y="672.600" width="64.400" height="6.400" fill="#d8d8d8"/>
<!-- large jig shelf 2 -->
<path d="M334.800 698 L346 695 L356.400 712.600 L334.800 706 Z" fill="#555"/>
<path d="M334.800 701.400 L356.400 708.600 L356.400 713.400 L334.800 706.200 Z" fill="#aaa"/>
<path d="M424 694 L454 694 L455 724 L428 724 Z" fill="#4c4c4c"/>
<rect x="365" y="694" width="59" height="14" fill="#707070"/>
<path d="M392 696 L396 696 L394 702 Z" fill="#f4f4f4" stroke="#222" stroke-width="0.500"/>
<rect x="358.800" y="709.400" width="69.200" height="5.600" fill="#9a9a9a"/>
<g fill="#444" stroke="none"><circle cx="383" cy="712.200" r="0.900"/><circle cx="389.500" cy="712.200" r="0.900"/><circle cx="396" cy="712.200" r="0.900"/><circle cx="402.500" cy="712.200" r="0.900"/></g>
<rect x="365" y="715.800" width="61" height="6.200" fill="#d8d8d8"/>
<!-- shelves -->
<rect x="256" y="683.500" width="204" height="3" fill="#4a4a4a"/>
<rect x="264" y="686.500" width="194" height="3.500" fill="#777"/>
<rect x="270" y="727" width="188" height="4" fill="#4a4a4a"/>
<rect x="270" y="731" width="188" height="7" fill="#606060"/>
<rect x="270" y="740" width="59" height="31" fill="#222"/>
<rect x="329" y="738" width="30" height="30" fill="#2e2e2e"/>
<rect x="359" y="740" width="69" height="30" fill="#262626"/>
<rect x="429" y="740" width="26" height="30" fill="#303030"/>
<rect x="268" y="770.500" width="190" height="9" fill="#4a4a4a"/>
<rect x="268" y="774" width="190" height="1.200" fill="#6a6a6a" stroke="none"/>
<rect x="268" y="779.500" width="190" height="10.500" fill="#565656"/>
<rect x="268" y="790" width="190" height="2.500" fill="#111" stroke="none"/>
<rect x="268" y="792.500" width="190" height="7.500" fill="#4c4c4c"/>
<rect x="268" y="794" width="190" height="1.200" fill="#777" stroke="none"/>
<rect x="255.600" y="690" width="5" height="110" fill="#ececec"/>
<rect x="260.600" y="690" width="5.400" height="110" fill="#555"/>
<rect x="266" y="690" width="3" height="110" fill="#999" stroke="none"/>

<!-- RIGHT drawer -->
<rect x="532" y="646" width="206" height="40" fill="#2a2a2e"/>
<rect x="654.600" y="649.400" width="16" height="10.400" fill="#5a5a5a"/>
<rect x="708.800" y="649.400" width="27.200" height="7.200" fill="#5a5a5a"/>
<rect x="537.800" y="674" width="22" height="10" fill="#0e2a86" stroke="none"/>
<path d="M653 660 L669 658 L669 684 L631 684 L631 679 Z" fill="#0e2a86" stroke="none"/>
<rect x="708.800" y="660" width="19" height="24" fill="#10225e" stroke="none"/>
<!-- jig 1 -->
<path d="M538 648 Q546 645 548 652 M540 657 Q547 655 548.500 661 L545 666" fill="none" stroke="#1a1a1a" stroke-width="2.400"/>
<path d="M652 646 Q644 644 642 651 M650 655 Q643 654 641.500 660 L645 665" fill="none" stroke="#1a1a1a" stroke-width="2.400"/>
<path d="M534.600 656.600 L557 649.400 L565 649.400 L565 672.600 L558.600 679 L536 669.400 Z" fill="#4a4a4a"/>
<path d="M536.200 667.800 L557.800 675 L557.800 679.800 L536.200 672.600 Z" fill="#aaa"/>
<path d="M624 649.400 L637 649.400 L653 658 L653 667.800 L630.600 679 L624 672.600 Z" fill="#4a4a4a"/>
<path d="M631.400 675 L652 667 L652 671 L631.400 679 Z" fill="#8a8a8a"/>
<rect x="565" y="649.400" width="59" height="23.200" fill="#606060"/>
<rect x="569.800" y="651" width="52.800" height="4.800" fill="#999"/>
<path d="M592 661 L597 661 L594.500 668 Z" fill="#f4f4f4" stroke="#222" stroke-width="0.500"/>
<rect x="559.400" y="674" width="69.600" height="5.800" fill="#999"/>
<g fill="#333" stroke="none"><circle cx="584" cy="677" r="0.900"/><circle cx="590.600" cy="677" r="0.900"/><circle cx="597" cy="677" r="0.900"/><circle cx="604" cy="677" r="0.900"/></g>
<rect x="561.800" y="680.600" width="64.800" height="3.200" fill="#d8d8d8"/>
<!-- small jig 1 -->
<rect x="672" y="647.800" width="36.800" height="18.400" fill="#707070"/>
<rect x="673.600" y="667.800" width="32.800" height="9.600" fill="#ececec"/>
<circle cx="683" cy="672.600" r="0.900" fill="#666" stroke="none"/><circle cx="696" cy="672.600" r="0.900" fill="#666" stroke="none"/>
<rect x="671" y="679.800" width="37" height="4" fill="#8a8a8a"/>
<rect x="711" y="668.600" width="7.400" height="10.400" fill="#777"/>
<rect x="711" y="679.800" width="6.400" height="3.200" fill="#f0f0f0" stroke="none"/>
<rect x="712.800" y="633.400" width="24.800" height="14.400" fill="#3a3a3a"/>
<rect x="714.400" y="634" width="8" height="6" fill="#d8d8d8" stroke="none"/>
<rect x="723" y="634" width="13.800" height="6.400" fill="#777" stroke="none"/>
<rect x="714.400" y="642" width="22.400" height="5" fill="#d8d8d8" stroke="none"/>
<!-- shelf 1 -->
<rect x="534.600" y="685.400" width="193" height="4.800" fill="#4e4e4e"/>
<rect x="534.600" y="691.600" width="193" height="3.800" fill="#1a3cb0" stroke="none"/>
<!-- level 2 bg -->
<rect x="538" y="695.800" width="189" height="31.200" fill="#2a2a2e" stroke="none"/>
<rect x="539.400" y="711" width="28" height="16" fill="#0e2a86" stroke="none"/>
<path d="M661 700 L666 700 L666 727 L637 727 L637 717 Z" fill="#0e2a86" stroke="none"/>
<rect x="704" y="696.600" width="23" height="30.400" fill="#0c2270" stroke="none"/>
<!-- jig 2 -->
<path d="M541 698.200 L557 695.800 L573 695.800 L573 707.800 L565 717.400 L542.600 709.400 Z" fill="#4a4a4a"/>
<path d="M543.400 705.400 L564.200 712.600 L564.200 717.400 L543.400 710.200 Z" fill="#aaa"/>
<path d="M631.400 695.800 L661 695.800 L661 704.600 L637 717.400 L635.400 711 Z" fill="#4a4a4a"/>
<path d="M637.800 711.800 L659.400 705.400 L659.400 709.400 L637.800 716.600 Z" fill="#8a8a8a"/>
<rect x="573" y="695.800" width="58.400" height="13.600" fill="#606060"/>
<path d="M600 698 L605 698 L602.500 705 Z" fill="#f4f4f4" stroke="#222" stroke-width="0.500"/>
<rect x="567.400" y="713.400" width="68" height="4.800" fill="#999"/>
<g fill="#333" stroke="none"><circle cx="590.600" cy="715.800" r="0.900"/><circle cx="597.800" cy="715.800" r="0.900"/><circle cx="604.200" cy="715.800" r="0.900"/><circle cx="611.400" cy="715.800" r="0.900"/></g>
<rect x="569" y="719.800" width="64.800" height="6.400" fill="#d8d8d8"/>
<!-- small jig 2 -->
<rect x="666.400" y="695.800" width="36.800" height="8" fill="#707070"/>
<rect x="668" y="706.200" width="33.600" height="10.400" fill="#ececec"/>
<circle cx="678" cy="711.400" r="0.900" fill="#666" stroke="none"/><circle cx="691" cy="711.400" r="0.900" fill="#666" stroke="none"/>
<rect x="665.600" y="719" width="38.400" height="8" fill="#7a7a7a"/>
<rect x="673" y="723" width="22" height="4" fill="#3a3a3a" stroke="none"/>
<rect x="706.400" y="706.200" width="7.200" height="12" fill="#888"/>
<rect x="706.400" y="719" width="6.400" height="3.200" fill="#f0f0f0" stroke="none"/>
<rect x="714.400" y="709" width="7.200" height="8" fill="#3a3a3a" stroke="none"/>
<!-- lower -->
<rect x="540" y="727" width="188" height="5" fill="#1a1a30"/>
<rect x="540" y="732" width="188" height="6" fill="#50505a"/>
<rect x="540" y="738" width="186" height="32" fill="#0e2a86"/>
<rect x="540" y="738" width="58" height="32" fill="#0d2880" stroke="none"/>
<rect x="638" y="738" width="28" height="30" fill="#0b2478"/>
<rect x="540" y="768" width="186" height="4.500" fill="#1a48d0"/>
<rect x="538" y="772.500" width="190" height="7" fill="#4a4a4a"/>
<rect x="538" y="779.500" width="190" height="10.500" fill="#565656"/>
<rect x="538" y="790" width="190" height="2.500" fill="#111" stroke="none"/>
<rect x="538" y="792.500" width="190" height="7" fill="#4c4c4c"/>
<rect x="538" y="794" width="190" height="1.200" fill="#777" stroke="none"/>
<rect x="530.600" y="686" width="3" height="114" fill="#bbb" stroke="none"/>
<rect x="534.800" y="686" width="3" height="114" fill="#999" stroke="none"/>
<rect x="727.700" y="686" width="2.500" height="114" fill="#bbb" stroke="none"/>
<rect x="731" y="686" width="2.600" height="114" fill="#888" stroke="none"/>
<rect x="733.600" y="650" width="4.800" height="150" fill="#4a4a4a" stroke="none"/>

<!-- feet -->
<rect x="255.500" y="799" width="48.500" height="22" fill="#6a6a6a"/>
<circle cx="275.500" cy="809" r="1" fill="#222" stroke="none"/><circle cx="299.500" cy="809" r="1" fill="#222" stroke="none"/>
<rect x="241.500" y="821.500" width="61.500" height="4" fill="#d4d4d4"/>
<path d="M275.500 826.500 L305 826.500 Q306 838 303 843 Q296 849 280 846 L275.500 843 Z" fill="#333"/>
<rect x="276" y="826.500" width="13" height="17" fill="#c8c8c8"/>
<rect x="263" y="827" width="11.500" height="15" fill="#999"/>
<circle cx="269" cy="841.500" r="5.300" fill="#8a8a8a" stroke="#1e1e1e" stroke-width="1.400"/>
<circle cx="269" cy="841.500" r="1.800" fill="#444" stroke="none"/>
<rect x="250.500" y="826.500" width="4.500" height="24" fill="#1c1c1c"/>
<rect x="227.500" y="856" width="51.500" height="23" rx="2.500" fill="#5a5a5a"/>
<rect x="229" y="875" width="48.500" height="3.500" fill="#8a8a8a" stroke="none"/>
<ellipse cx="253" cy="865" rx="13" ry="5.500" fill="#333"/>
<ellipse cx="253" cy="862.500" rx="12" ry="4.200" fill="#7a7a7a"/>
<rect x="248" y="849" width="10" height="10" rx="2.500" fill="#444"/>
<rect x="249" y="852" width="8" height="2.500" fill="#999" stroke="none"/>

<rect x="693" y="798.500" width="47" height="21.500" fill="#6a6a6a"/>
<circle cx="698" cy="808" r="1" fill="#222" stroke="none"/><circle cx="722" cy="808" r="1" fill="#222" stroke="none"/>
<rect x="693" y="820" width="61" height="4" fill="#d4d4d4"/>
<path d="M722 825 L693.500 825 Q692.500 836 695 841 Q702 847 718 845 L722 842 Z" fill="#c4c4c4"/>
<path d="M694 837 Q695 842 699 844 Q708 847 718 845 L722 842 L722 839 Q708 844 694 837 Z" fill="#333" stroke="none"/>
<rect x="695" y="825.500" width="13" height="8" rx="2" fill="#444"/>
<circle cx="701" cy="830" r="2.200" fill="#888" stroke="none"/>
<rect x="723" y="825.500" width="11.500" height="15" fill="#999"/>
<circle cx="729" cy="840" r="5.300" fill="#8a8a8a" stroke="#1e1e1e" stroke-width="1.400"/>
<circle cx="729" cy="840" r="1.800" fill="#444" stroke="none"/>
<rect x="742" y="825" width="4.500" height="24" fill="#1c1c1c"/>
<rect x="718" y="854.500" width="52" height="22.500" rx="2.500" fill="#5a5a5a"/>
<rect x="719.500" y="873" width="49" height="3.500" fill="#8a8a8a" stroke="none"/>
<ellipse cx="744" cy="863.500" rx="13" ry="5.500" fill="#333"/>
<ellipse cx="744" cy="861" rx="12" ry="4.200" fill="#7a7a7a"/>
<rect x="739" y="847.500" width="10" height="10" rx="2.500" fill="#444"/>
<rect x="740" y="850.500" width="8" height="2.500" fill="#999" stroke="none"/>
</g>
<!-- leader lines -->
<g class="y">
<path d="M238 215 L367 215"/>
<path d="M240 300.600 L368 301"/>
<path d="M239 379 L339 379 L367 395"/>
<path d="M215 448.500 L375 448.500"/>
<path d="M224 517.500 L377 516.500"/>
<path d="M239 607.500 L420 607.500 L490 545"/>
<path d="M154 748 L329 748 L404 685"/>
<path d="M763 171.500 L600 171.500 L553 215"/>
<path d="M741 268.500 L560 267.500"/>
<path d="M578 314 L499 394"/>
<path d="M782 358 L673 358 L627 395"/>
<path d="M798 414 L627 413.500"/>
<path d="M802 552 L717 552"/>
</g>
<g class="yd">
<circle cx="368" cy="215" r="5.500"/><circle cx="368" cy="301" r="5.500"/><circle cx="367" cy="395" r="5.500"/>
<circle cx="375" cy="448.500" r="5.500"/><circle cx="377" cy="516.500" r="5.500"/><circle cx="490" cy="545" r="5.500"/>
<circle cx="404" cy="685" r="5.500"/><circle cx="553" cy="215" r="5.500"/><circle cx="560" cy="267.500" r="5.500"/>
<circle cx="499" cy="394" r="5.500"/><circle cx="627" cy="395" r="5.500"/><circle cx="627" cy="413.500" r="5.500"/>
<circle cx="717" cy="552" r="5.500"/>
</g>
<!-- labels -->
<g class="t">
<text x="87.500" y="221" textLength="146" lengthAdjust="spacingAndGlyphs">Load-cell Indicator</text>
<text x="117" y="302" textLength="110" lengthAdjust="spacingAndGlyphs">Laser Welding</text>
<text x="117" y="322" textLength="81" lengthAdjust="spacingAndGlyphs">Scan Head</text>
<text x="71" y="381" textLength="122" lengthAdjust="spacingAndGlyphs">Laser Scan Area</text>
<text x="74" y="455" textLength="127" lengthAdjust="spacingAndGlyphs">Flatness checker</text>
<text x="68.500" y="522" textLength="139.500" lengthAdjust="spacingAndGlyphs">Laser Welding JIG</text>
<text x="68.500" y="541" textLength="53.500" lengthAdjust="spacingAndGlyphs">(lower)</text>
<text x="158" y="614" textLength="59" lengthAdjust="spacingAndGlyphs">NG Box</text>
<text x="44" y="747.500" textLength="97" lengthAdjust="spacingAndGlyphs">JIG Storages</text>
<text x="774" y="178.500" textLength="85" lengthAdjust="spacingAndGlyphs">ELCR-D100</text>
<text x="750.500" y="274.500" textLength="61.500" lengthAdjust="spacingAndGlyphs">Host PC</text>
<text x="762" y="324" textLength="171.500" lengthAdjust="spacingAndGlyphs">Hume Suction System</text>
<text x="788" y="356.500" textLength="139.500" lengthAdjust="spacingAndGlyphs">Laser Welding JIG</text>
<text x="788" y="375.500" textLength="56" lengthAdjust="spacingAndGlyphs">(upper)</text>
<text x="808" y="420" textLength="165" lengthAdjust="spacingAndGlyphs">LVDT (depth control)</text>
<text x="813.800" y="557.300" textLength="100.500" lengthAdjust="spacingAndGlyphs">EP Regulator</text>
</g>

</svg>
</body></html>
